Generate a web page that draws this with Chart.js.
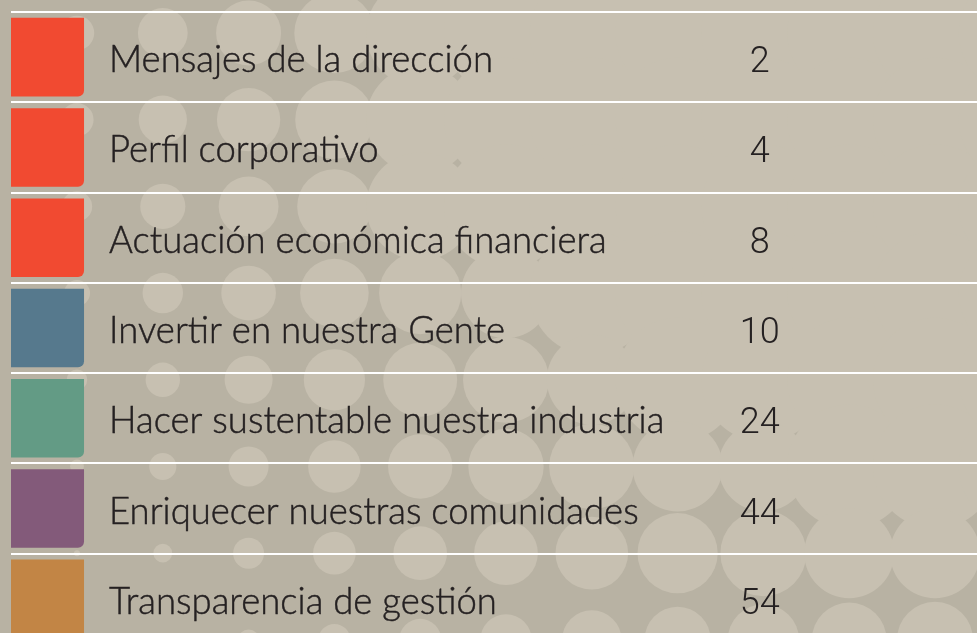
<!DOCTYPE html>
<html>
<head>
<meta charset="utf-8">
<script src="https://cdn.jsdelivr.net/npm/chart.js@4.4.0/dist/chart.umd.min.js"></script>
<style>
html,body{margin:0;padding:0;overflow:hidden;background:#b8b2a3;}
#wrap{position:relative;width:977px;height:645px;}
</style>
</head>
<body>
<div id="wrap"><canvas id="c" width="977" height="645"></canvas></div>
<script>
// ---- data ----
const sections = [
  "Mensajes de la dirección",
  "Perfil corporativo",
  "Actuación económica financiera",
  "Invertir en nuestra Gente",
  "Hacer sustentable nuestra industria",
  "Enriquecer nuestras comunidades",
  "Transparencia de gestión"
];
const pages = ["2", "4", "8", "10", "24", "44", "54"];
const swatchValues = [7.56, 7.56, 7.56, 7.56, 7.56, 7.56, 7.56];
const swatchColors = ["#f14a31", "#f14a31", "#f14a31", "#56798d", "#639b85", "#835a7a", "#c28545"];

// ---- decorative dotted background ----
const bgPlugin = {
  id: 'bg',
  beforeDraw(chart) {
    const {ctx, width, height} = chart;
    ctx.save();
    ctx.fillStyle = '#b8b2a3';
    ctx.fillRect(0, 0, width, height);
    ctx.fillStyle = '#c7c0b1';
    const sx = 85.8, sy = 86.7;
    for (let gx = 77; gx < width + sx; gx += sx) {
      for (let gy = 33 - sy; gy < height + sy; gy += sy) {
        let solid;
        if (gy < 420) solid = gx >= 500 + Math.max(0, gy - 206) * 0.99;
        else solid = gy < 500 && gx >= 840;
        let r;
        if (solid) r = 62;
        else if (gx > 410 && gy < 250) r = 54;
        else r = Math.min(45, 95 - 0.089 * Math.hypot(gx - 950, gy));
        if (r > 1) { ctx.beginPath(); ctx.arc(gx, gy, r, 0, Math.PI * 2); ctx.fill(); }
      }
    }
    ctx.restore();
  }
};

// ---- labels and page numbers ----
const textPlugin = {
  id: 'toc',
  afterDatasetsDraw(chart) {
    const {ctx} = chart;
    const ys = chart.scales.y, xs = chart.scales.x;
    ctx.save();
    ctx.font = '300 36px Lato';
    const w = ctx.measureText(sections[0]).width;
    const fs = 36 * 384 / w;
    ctx.fillStyle = '#252122';
    ctx.strokeStyle = '#252122';
    ctx.lineWidth = 0.45;
    ctx.textBaseline = 'alphabetic';
    sections.forEach((s, i) => {
      const yc = ys.getPixelForValue(i);
      const tx = xs.getPixelForValue(10.15);
      ctx.font = '300 ' + fs.toFixed(2) + 'px Lato';
      ctx.textAlign = 'left';
      ctx.fillText(s, tx, yc + 15);
      ctx.strokeText(s, tx, yc + 15);
      ctx.font = '300 36px Roboto';
      ctx.textAlign = 'center';
      ctx.fillText(pages[i], xs.getPixelForValue(77.5), yc + 15);
    });
    ctx.restore();
  }
};

new Chart(document.getElementById('c'), {
  type: 'bar',
  data: {
    labels: sections,
    datasets: [{
      data: swatchValues,
      backgroundColor: swatchColors,
      borderWidth: 0,
      borderSkipped: false,
      borderRadius: {topLeft: 0, topRight: 0, bottomLeft: 0, bottomRight: 6},
      barPercentage: 0.87,
      categoryPercentage: 1.0
    }]
  },
  options: {
    indexAxis: 'y',
    responsive: false,
    animation: false,
    layout: {padding: {left: 11, top: 12, right: 0, bottom: 1}},
    plugins: {legend: {display: false}, tooltip: {enabled: false}},
    scales: {
      x: {display: false, min: 0, max: 100},
      y: {
        display: true,
        offset: true,
        grid: {offset: true, color: '#ffffff', lineWidth: 2, drawTicks: false},
        border: {display: false},
        ticks: {display: false}
      }
    }
  },
  plugins: [bgPlugin, textPlugin]
});
</script>
</body>
</html>
